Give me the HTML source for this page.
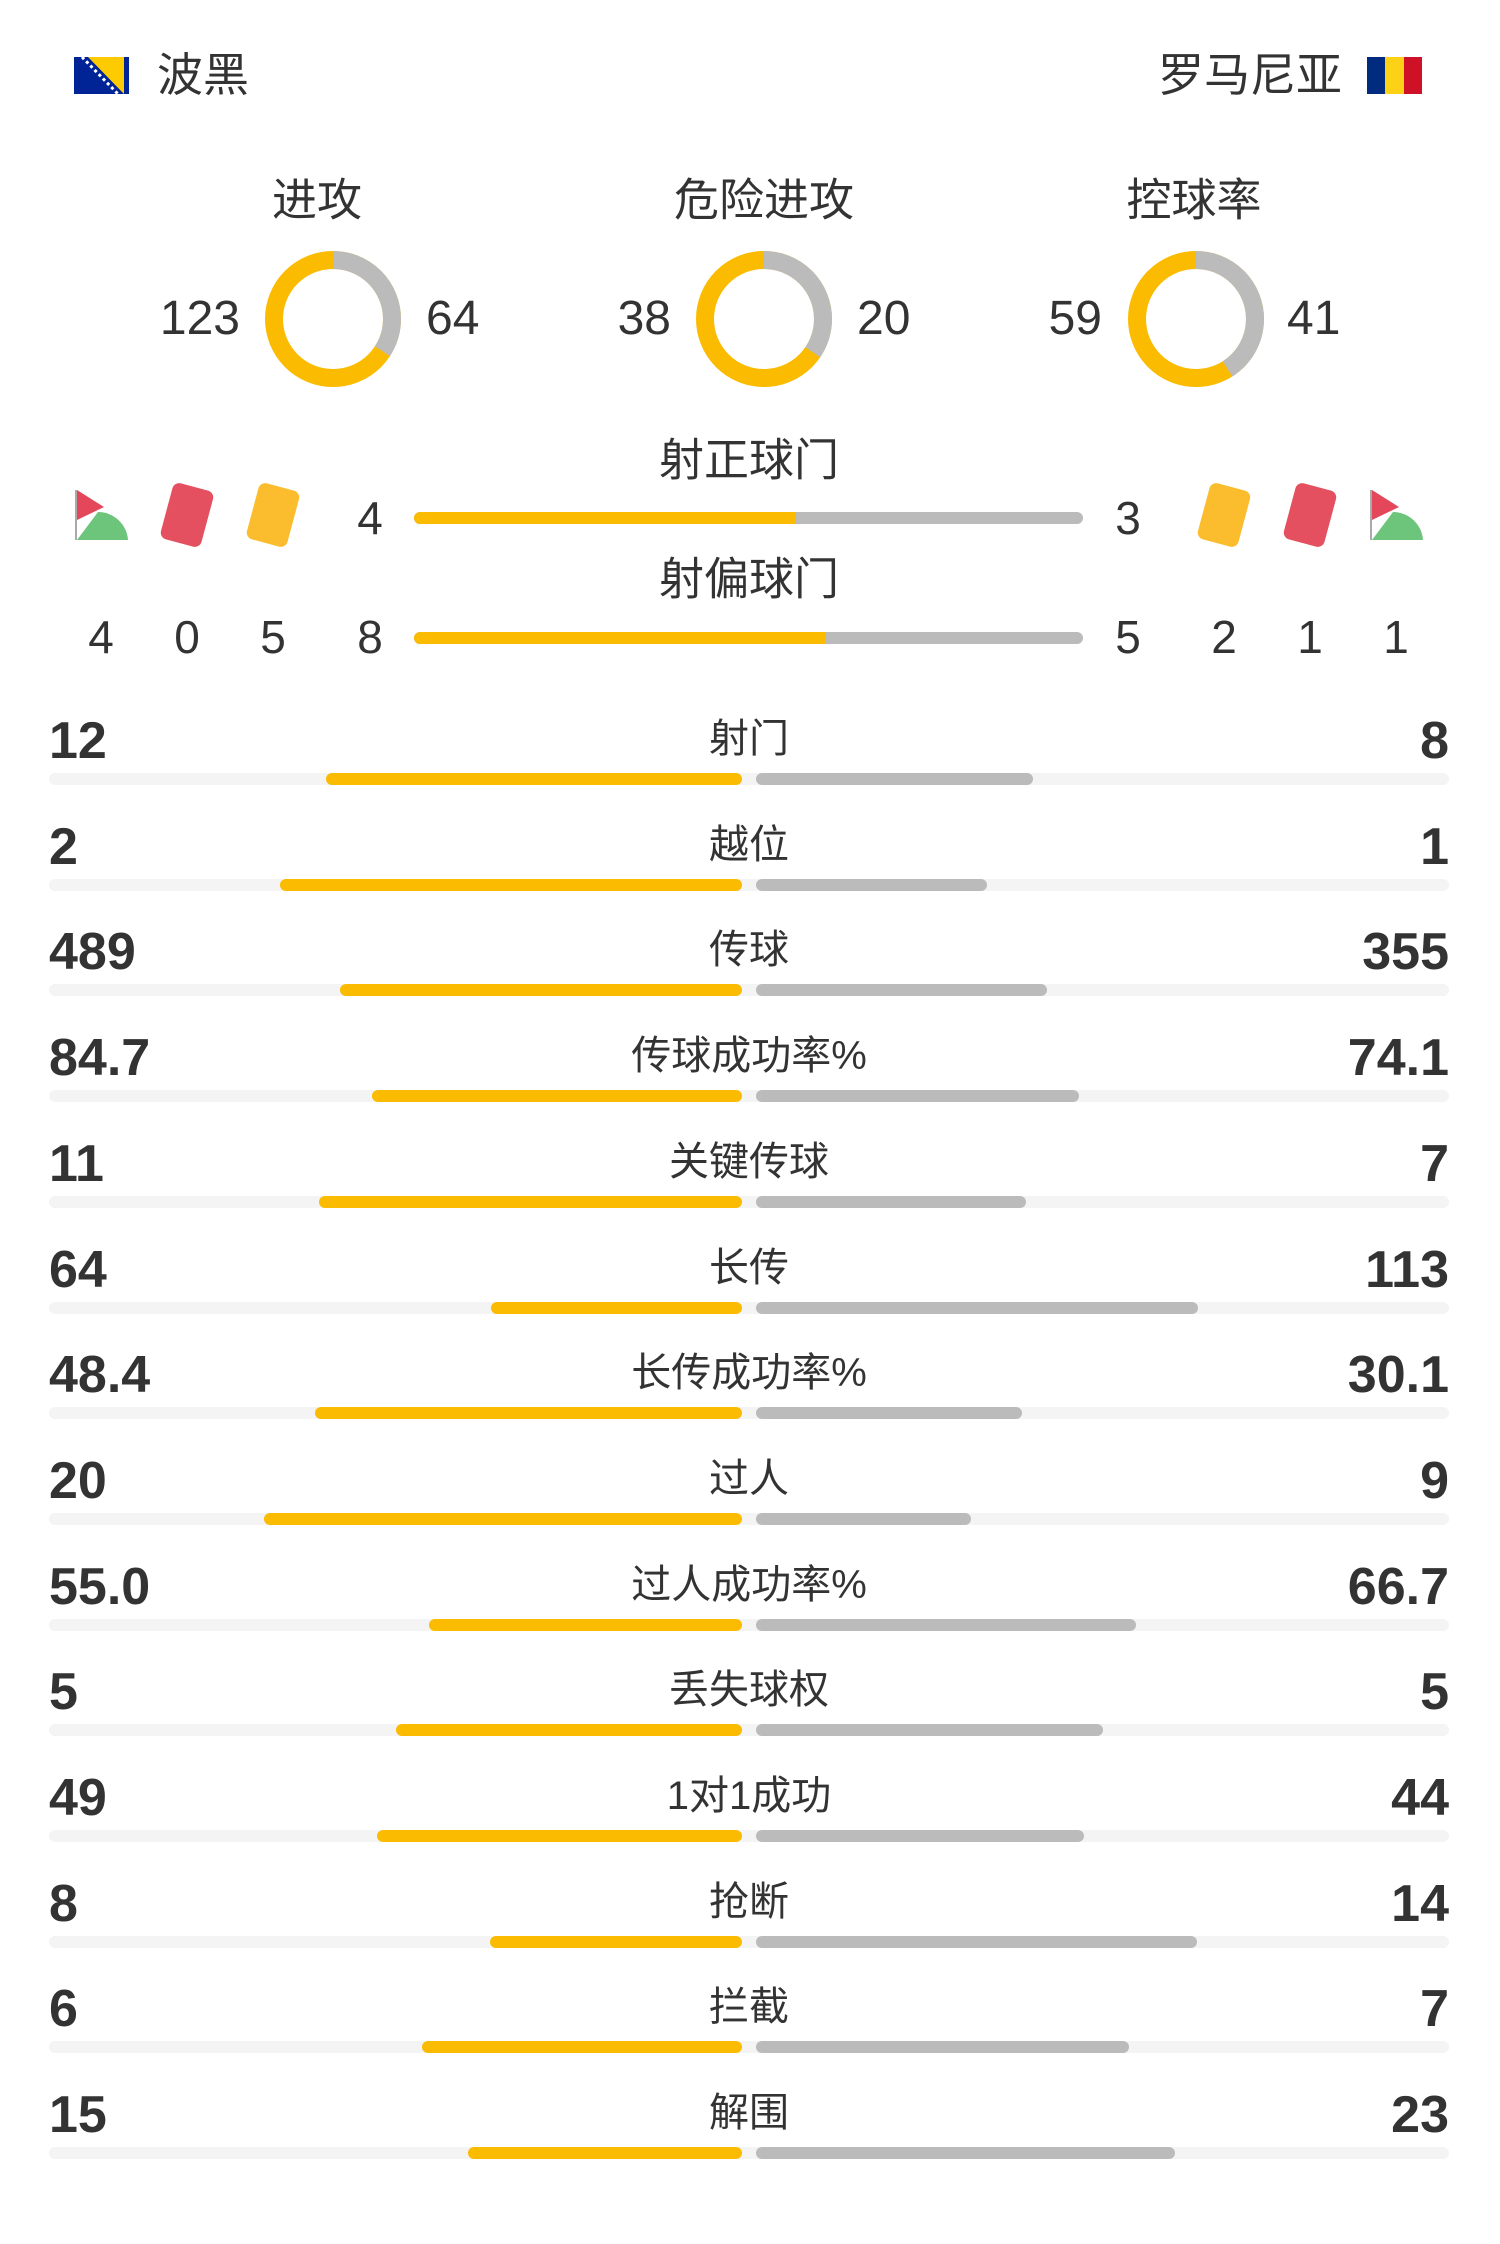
<!DOCTYPE html>
<html><head><meta charset="utf-8"><style>
body{margin:0;width:1500px;height:2244px;background:#fff;position:relative;overflow:hidden;font-family:"Liberation Sans","Noto Sans CJK SC",sans-serif;color:#333}
.t{position:absolute;white-space:nowrap;transform:translate(-50%,-50%);line-height:1}
.l{position:absolute;white-space:nowrap;transform:translateY(-50%);line-height:1}
.r{position:absolute;white-space:nowrap;transform:translate(-100%,-50%);line-height:1}
.b{position:absolute;height:12px;border-radius:6px}
.card{position:absolute;width:42px;height:58px;border-radius:7px;transform:translate(-50%,-50%) rotate(15deg)}
</style></head><body>
<svg style="position:absolute;left:74px;top:57px" width="55" height="37"><rect width="55" height="37" fill="#002395"/><polygon points="14,0 50,0 50,37" fill="#fecb00"/><line x1="8" y1="0" x2="44" y2="37" stroke="#fff" stroke-width="3" stroke-dasharray="3 3"/></svg>
<div class="l" style="left:157px;top:75px;font-size:46px">波黑</div>
<div class="r" style="left:1342px;top:75px;font-size:46px">罗马尼亚</div>
<svg style="position:absolute;left:1367px;top:57px" width="55" height="37"><rect width="18" height="37" fill="#002b7f"/><rect x="18" width="19" height="37" fill="#fcd116"/><rect x="37" width="18" height="37" fill="#ce1126"/></svg>

<div class="t" style="left:317px;top:200px;font-size:45px">进攻</div>
<div class="t" style="left:764px;top:200px;font-size:45px">危险进攻</div>
<div class="t" style="left:1194px;top:200px;font-size:45px">控球率</div>
<svg style="position:absolute;left:0;top:0" width="1500" height="460">
<g fill="none" stroke-width="18">
<circle cx="333" cy="319" r="59" stroke="#fbbb00"/>
<circle cx="333" cy="319" r="59" stroke="#bbb" stroke-dasharray="126.7 400" transform="rotate(-90 333 319)"/>
<circle cx="764" cy="319" r="59" stroke="#fbbb00"/>
<circle cx="764" cy="319" r="59" stroke="#bbb" stroke-dasharray="127.9 400" transform="rotate(-90 764 319)"/>
<circle cx="1196" cy="319" r="59" stroke="#fbbb00"/>
<circle cx="1196" cy="319" r="59" stroke="#bbb" stroke-dasharray="152 400" transform="rotate(-90 1196 319)"/>
</g></svg>
<div class="r" style="left:240px;top:319px;font-size:48px">123</div>
<div class="l" style="left:426px;top:319px;font-size:48px">64</div>
<div class="r" style="left:671px;top:319px;font-size:48px">38</div>
<div class="l" style="left:857px;top:319px;font-size:48px">20</div>
<div class="r" style="left:1102px;top:319px;font-size:48px">59</div>
<div class="l" style="left:1287px;top:319px;font-size:48px">41</div>

<div class="t" style="left:749px;top:460px;font-size:45px">射正球门</div>
<div class="b" style="left:414px;top:512px;width:669px;background:#bbb"></div>
<div class="b" style="left:414px;top:512px;width:382px;background:#fbbb00;border-radius:6px 0 0 6px"></div>
<div class="t" style="left:370px;top:518px;font-size:46px">4</div>
<div class="t" style="left:1128px;top:518px;font-size:46px">3</div>
<svg style="position:absolute;left:74px;top:490px" width="54" height="50"><line x1="2" y1="0" x2="2" y2="50" stroke="#aaa" stroke-width="2"/><polygon points="3,0 30,17 3,30" fill="#e4475a"/><path d="M3,50 L54,50 A30,30 0 0 0 24,22 Z" fill="#6cc57a"/></svg>
<svg style="position:absolute;left:1369px;top:490px" width="54" height="50"><line x1="2" y1="0" x2="2" y2="50" stroke="#aaa" stroke-width="2"/><polygon points="3,0 30,17 3,30" fill="#e4475a"/><path d="M3,50 L54,50 A30,30 0 0 0 24,22 Z" fill="#6cc57a"/></svg>
<div class="card" style="left:187px;top:515px;background:#e4505f"></div>
<div class="card" style="left:273px;top:515px;background:#fbbd2e"></div>
<div class="card" style="left:1224px;top:515px;background:#fbbd2e"></div>
<div class="card" style="left:1310px;top:515px;background:#e4505f"></div>

<div class="t" style="left:749px;top:579px;font-size:45px">射偏球门</div>
<div class="b" style="left:414px;top:632px;width:669px;background:#bbb"></div>
<div class="b" style="left:414px;top:632px;width:412px;background:#fbbb00;border-radius:6px 0 0 6px"></div>
<div class="t" style="left:101px;top:637px;font-size:46px">4</div>
<div class="t" style="left:187px;top:637px;font-size:46px">0</div>
<div class="t" style="left:273px;top:637px;font-size:46px">5</div>
<div class="t" style="left:370px;top:637px;font-size:46px">8</div>
<div class="t" style="left:1128px;top:637px;font-size:46px">5</div>
<div class="t" style="left:1224px;top:637px;font-size:46px">2</div>
<div class="t" style="left:1310px;top:637px;font-size:46px">1</div>
<div class="t" style="left:1396px;top:637px;font-size:46px">1</div>

<div id="rows"></div>
<script>
var d=[["射门",12,8,"12","8"],["越位",2,1,"2","1"],["传球",489,355,"489","355"],["传球成功率%",84.7,74.1,"84.7","74.1"],["关键传球",11,7,"11","7"],["长传",64,113,"64","113"],["长传成功率%",48.4,30.1,"48.4","30.1"],["过人",20,9,"20","9"],["过人成功率%",55,66.7,"55.0","66.7"],["丢失球权",5,5,"5","5"],["1对1成功",49,44,"49","44"],["抢断",8,14,"8","14"],["拦截",6,7,"6","7"],["解围",15,23,"15","23"]];
var h="";
d.forEach(function(r,i){var y=739+105.7*i,by=773+105.7*i,s=r[1]+r[2],lw=693*r[1]/s,rw=693*r[2]/s;
h+='<div class="b" style="left:49px;top:'+by+'px;width:1400px;background:#f4f4f4"></div>';
h+='<div class="b" style="left:'+(742-lw)+'px;top:'+by+'px;width:'+lw+'px;background:#fbbb00"></div>';
h+='<div class="b" style="left:756px;top:'+by+'px;width:'+rw+'px;background:#bbb"></div>';
h+='<div class="t" style="left:749px;top:'+y+'px;font-size:40px">'+r[0]+'</div>';
h+='<div class="l" style="left:49px;top:'+(y+2)+'px;font-size:52px;font-weight:bold">'+r[3]+'</div>';
h+='<div class="r" style="left:1449px;top:'+(y+2)+'px;font-size:52px;font-weight:bold">'+r[4]+'</div>';});
document.getElementById("rows").innerHTML=h;
</script>
</body></html>
